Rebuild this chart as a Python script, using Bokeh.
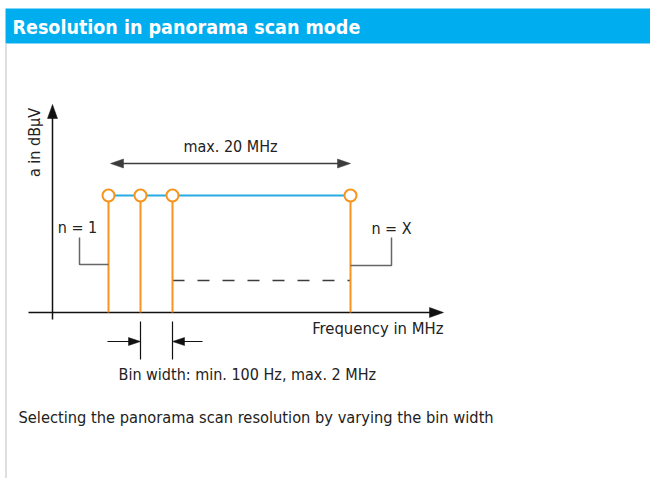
import math
from bokeh.plotting import figure
from bokeh.models import Range1d
from bokeh.core.properties import value
from bokeh.embed import file_html
from bokeh.resources import INLINE

FONT = "DejaVu Sans Condensed"
TXT = "#222222"
ORANGE = "#F7941D"
BLUE = "#29ABE2"
HEAD = "#00AEEF"
GREY = "#3c3c3c"

# ---- diagram data (picture coordinates of the schematic) ----
title = "Resolution in panorama scan mode"
caption = "Selecting the panorama scan resolution by varying the bin width"
y_label = "a in dBµV"
x_label = "Frequency in MHz"
span_label = "max. 20 MHz"
bin_label = "Bin width: min. 100 Hz, max. 2 MHz"
first_label = "n = 1"
last_label = "n = X"

bin_freqs = [108, 140, 172, 350]      # bin positions on the frequency axis
level = 195                             # displayed level of the bins
origin_x, origin_y = 52, 312            # axis crossing
x_axis_end, y_axis_end = 443, 104
span_range = [110, 350]
span_y = 163
dash_level = 280
bin_marks = [140, 172]

p = figure(width=650, height=478, x_range=Range1d(0, 650), y_range=Range1d(478, 0),
           output_backend="svg", toolbar_location=None,
           x_axis_location=None, y_axis_location=None, min_border=0,
           outline_line_color=None, background_fill_color="white")
p.grid.visible = False


def head(tx, ty, dx, dy, length=13, half=4.5, color=GREY):
    # arrow head with tip (tx, ty) pointing in direction (dx, dy)
    bx, by = tx - dx * length, ty - dy * length
    nx, ny = -dy, dx
    p.patch([tx, bx + nx * half, bx - nx * half], [ty, by + ny * half, by - ny * half],
            fill_color=color, line_color=color, line_width=0.5)


# header band
p.quad(left=[5], right=[650], top=[8], bottom=[43], fill_color=HEAD, line_color=None)
p.text(x=[12], y=[27], text=[title], text_color="white", text_font=value(FONT),
       text_font_size="19.5px", text_font_style="bold", text_baseline="middle")
# left panel border
p.segment(x0=[5.5], y0=[43], x1=[5.5], y1=[478], line_color="#d4d4d4", line_width=1.5)

# axes
p.segment(x0=[origin_x], y0=[319], x1=[origin_x], y1=[y_axis_end + 10], line_color="#111", line_width=1.5)
head(origin_x, y_axis_end, 0, -1, length=14, half=5, color="#111")
p.segment(x0=[28], y0=[origin_y], x1=[x_axis_end - 10], y1=[origin_y], line_color="#111", line_width=1.5)
head(x_axis_end, origin_y, 1, 0, length=14, half=5, color="#111")

# max span arrow
p.segment(x0=[span_range[0] + 8], y0=[span_y], x1=[span_range[1] - 8], y1=[span_y], line_color=GREY, line_width=1.5)
head(span_range[0], span_y, -1, 0)
head(span_range[1], span_y, 1, 0)
p.text(x=[(span_range[0] + span_range[1]) / 2], y=[146], text=[span_label], text_color=TXT,
       text_font=value(FONT), text_font_size="16px", text_align="center", text_baseline="middle")

# dashed level
p.segment(x0=[bin_freqs[2]], y0=[dash_level], x1=[bin_freqs[-1]], y1=[dash_level],
          line_color=GREY, line_width=1.3, line_dash="12 13")

# bins
p.segment(x0=[bin_freqs[0]], y0=[level], x1=[bin_freqs[-1]], y1=[level], line_color=BLUE, line_width=2)
p.segment(x0=bin_freqs, y0=[origin_y] * len(bin_freqs), x1=bin_freqs, y1=[level + 6] * len(bin_freqs),
          line_color=ORANGE, line_width=2)
p.scatter(x=bin_freqs, y=[level] * len(bin_freqs), marker="circle", size=12,
          fill_color="white", line_color=ORANGE, line_width=2)

# leaders
p.line(x=[79, 79, bin_freqs[0]], y=[237, 264, 264], line_color="#666", line_width=1.5)
p.line(x=[391, 391, bin_freqs[-1]], y=[237, 265, 265], line_color="#666", line_width=1.5)
p.text(x=[77], y=[227], text=[first_label], text_color=TXT, text_font=value(FONT),
       text_font_size="16px", text_align="center", text_baseline="middle")
p.text(x=[391], y=[228], text=[last_label], text_color=TXT, text_font=value(FONT),
       text_font_size="16px", text_align="center", text_baseline="middle")

# axis labels
p.text(x=[443], y=[328], text=[x_label], text_color=TXT, text_font=value(FONT),
       text_font_size="16.5px", text_align="right", text_baseline="middle")
p.text(x=[34], y=[142], text=[y_label], text_color=TXT, text_font=value(FONT),
       text_font_size="16px", text_align="center", text_baseline="middle", angle=math.pi / 2)

# bin width markers
p.segment(x0=bin_marks, y0=[321, 321], x1=bin_marks, y1=[359, 359], line_color="#111", line_width=1.2)
p.segment(x0=[107], y0=[341], x1=[bin_marks[0] - 10], y1=[341], line_color="#111", line_width=1.2)
head(bin_marks[0], 341, 1, 0, length=12, half=4, color="#111")
p.segment(x0=[202], y0=[341], x1=[bin_marks[1] + 10], y1=[341], line_color="#111", line_width=1.2)
head(bin_marks[1], 341, -1, 0, length=12, half=4, color="#111")
p.text(x=[118], y=[374], text=[bin_label], text_color=TXT, text_font=value(FONT),
       text_font_size="16px", text_align="left", text_baseline="middle")

# caption
p.text(x=[18], y=[417], text=[caption], text_color=TXT, text_font=value(FONT),
       text_font_size="16.3px", text_align="left", text_baseline="middle")

open("out.html", "w").write(file_html(p, INLINE))
